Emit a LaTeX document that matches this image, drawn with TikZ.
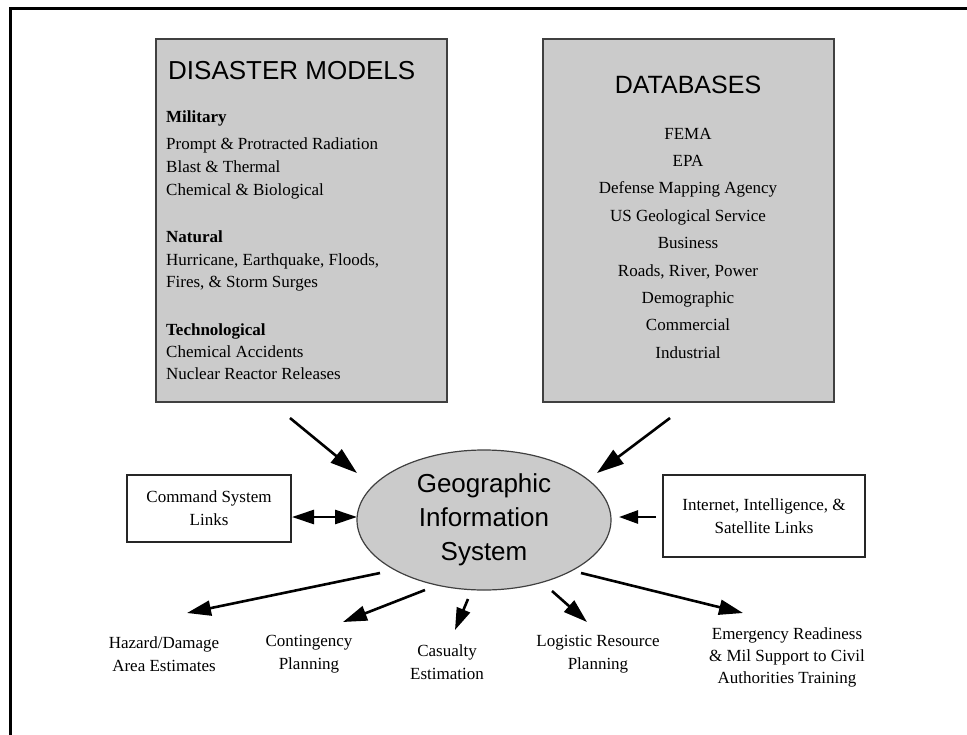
\documentclass[tikz,border=0pt]{standalone}
\usepackage{fontspec}
\setmainfont{Liberation Serif}
\newfontfamily\headfont{Liberation Sans}
\usetikzlibrary{arrows.meta,shapes.geometric}

\definecolor{panelgray}{HTML}{CBCBCB}
\definecolor{edgegray}{HTML}{404040}

\tikzset{
  panel/.style={draw=edgegray, line width=1.4pt, fill=panelgray, inner sep=0pt,
                minimum width=291pt, minimum height=363pt},
  linkbox/.style={draw=black!85, line width=1.3pt, fill=white, align=center,
                  inner sep=0pt, font=\fontsize{17}{23}\selectfont},
  bodytext/.style={inner sep=0pt, font=\fontsize{17}{23}\selectfont},
  outtext/.style={inner sep=0pt, align=center, font=\fontsize{17}{23}\selectfont},
  headtext/.style={inner sep=0pt, font=\headfont\fontsize{26}{30}\selectfont},
  flow/.style={line width=2.6pt, -{Triangle[length=24pt,width=15pt]}},
  bigflow/.style={line width=2.6pt, -{Triangle[length=27pt,width=17pt]}},
}

\begin{document}
\begin{tikzpicture}[x=1pt,y=-1pt]
\useasboundingbox (0,0) rectangle (967,734);

% outer frame (left and top edges)
\draw[line width=3pt] (10,736) -- (10,8) -- (969,8);

% upper panels
\node[panel] (dm) at (301.5,220.5) {};
\node[panel] (db) at (688.5,220.5) {};

% disaster models panel text
\node[headtext, anchor=base west] (dmtitle) at (168,79) {DISASTER MODELS};
\node[bodytext, anchor=base west] (m1) at (166,122) {\bfseries Military};
\node[bodytext, anchor=base west] (m2) at (166,149) {Prompt \& Protracted Radiation};
\node[bodytext, anchor=base west] (m3) at (166,172) {Blast \& Thermal};
\node[bodytext, anchor=base west] (m4) at (166,195) {Chemical \& Biological};
\node[bodytext, anchor=base west] (n1) at (166,242) {\bfseries Natural};
\node[bodytext, anchor=base west] (n2) at (166,265) {Hurricane, Earthquake, Floods,};
\node[bodytext, anchor=base west] (n3) at (166,287) {Fires, \& Storm Surges};
\node[bodytext, anchor=base west] (t1) at (166,335) {\bfseries Technological};
\node[bodytext, anchor=base west] (t2) at (166,357) {Chemical Accidents};
\node[bodytext, anchor=base west] (t3) at (166,379) {Nuclear Reactor Releases};

% databases panel text
\node[headtext, anchor=base, font=\headfont\fontsize{25}{30}\selectfont] (dbtitle) at (688,93) {DATABASES};
\foreach \item [count=\i] in {FEMA, EPA, Defense Mapping Agency, US Geological Service,
    Business, {Roads, River, Power}, Demographic, Commercial, Industrial}
  \node[bodytext, anchor=base] (d\i) at (688,{139+27.4*(\i-1)}) {\item};

% central ellipse
\node[ellipse, draw=edgegray, line width=1.2pt, fill=panelgray, minimum width=254pt,
      minimum height=140pt, inner sep=0pt] (gis) at (484,520) {};
\node[inner sep=0pt, align=center, font=\headfont\fontsize{26}{34}\selectfont] (gistext)
      at (484,520) {Geographic\\Information\\System};

% side link boxes
\node[linkbox, minimum width=164pt, minimum height=67pt] (cmd) at (209,508.5)
      {Command System\\Links};
\node[linkbox, minimum width=202pt, minimum height=82pt] (net) at (764,516)
      {Internet, Intelligence, \&\\Satellite Links};

% output labels
\node[outtext] (haz) at (164,654) {Hazard/Damage\\Area Estimates};
\node[outtext] (con) at (309,654) {Contingency\\Planning};
\node[outtext] (cas) at (447,662) {Casualty\\Estimation};
\node[outtext] (log) at (598,654) {Logistic Resource\\Planning};
\node[outtext, font=\fontsize{17}{22}\selectfont] (emr) at (787,657)
      {Emergency Readiness\\\& Mil Support to Civil\\Authorities Training};

% connector end points
\coordinate (dm-out)  at (290,418);  \coordinate (gis-nw) at (357,473);
\coordinate (db-out)  at (670,418);  \coordinate (gis-ne) at (597,473);
\coordinate (cmd-e)   at (292,517);  \coordinate (gis-w)  at (357,517);
\coordinate (net-w)   at (656,517);  \coordinate (gis-e)  at (619,517);
\coordinate (gis-o1)  at (380,573);  \coordinate (haz-in) at (187,613);
\coordinate (gis-o2)  at (425,590);  \coordinate (con-in) at (343,622);
\coordinate (gis-o3)  at (468,599);  \coordinate (cas-in) at (455,630);
\coordinate (gis-o4)  at (552,591);  \coordinate (log-in) at (587,622);
\coordinate (gis-o5)  at (581,573);  \coordinate (emr-in) at (743,613);

% inputs
\draw[bigflow] (dm-out) -- (gis-nw);
\draw[bigflow] (db-out) -- (gis-ne);
\draw[line width=2.6pt, {Triangle[length=22pt,width=14pt]}-{Triangle[length=22pt,width=14pt]}]
      (cmd-e) -- (gis-w);
\draw[line width=2.6pt, -{Triangle[length=19pt,width=13pt]}] (net-w) -- (gis-e);

% outputs
\draw[flow] (gis-o1) -- (haz-in);
\draw[flow] (gis-o2) -- (con-in);
\draw[flow, -{Triangle[length=22pt,width=14pt]}] (gis-o3) -- (cas-in);
\draw[flow] (gis-o4) -- (log-in);
\draw[flow] (gis-o5) -- (emr-in);
\end{tikzpicture}
\end{document}
